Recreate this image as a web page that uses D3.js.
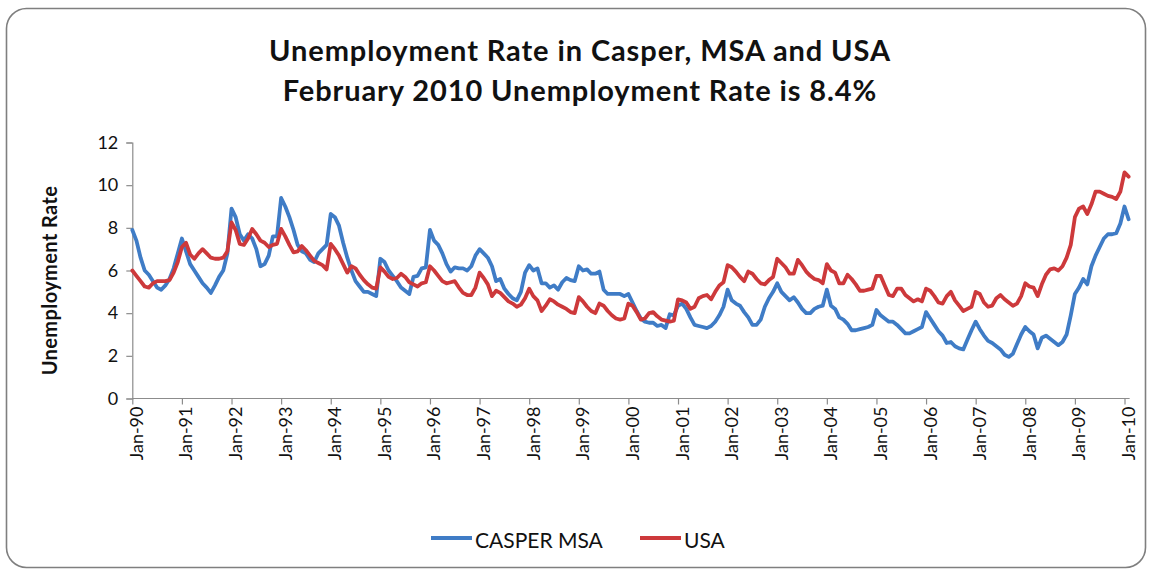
<!DOCTYPE html>
<html>
<head>
<meta charset="utf-8">
<script src="https://cdn.jsdelivr.net/npm/d3@7"></script>
<style>
  html, body { margin: 0; padding: 0; background: #fff; }
  svg { display: block; }
</style>
</head>
<body>
<svg id="chart" width="1151" height="572"></svg>
<script>
// Monthly unemployment rate (%), Jan 1990 through Feb 2010
const startYear = 1990;

const casper = [
  7.9, 7.4, 6.6, 6.0, 5.8, 5.5, 5.2, 5.1, 5.3, 5.6, 6.1, 6.8,
  7.5, 6.9, 6.3, 6.0, 5.7, 5.4, 5.2, 4.95, 5.3, 5.7, 6.0, 6.8,
  8.9, 8.5, 7.7, 7.4, 7.7, 7.5, 7.0, 6.2, 6.3, 6.7, 7.6, 7.6,
  9.4, 9.0, 8.5, 7.9, 7.2, 6.9, 6.8, 6.5, 6.4, 6.8, 7.0, 7.2,
  8.65, 8.5, 8.1, 7.3, 6.6, 6.0, 5.5, 5.25, 5.0, 5.0, 4.9, 4.8,
  6.55, 6.4, 6.0, 5.75, 5.5, 5.2, 5.05, 4.9, 5.7, 5.75, 6.1, 6.15,
  7.9, 7.4, 7.2, 6.8, 6.3, 5.95, 6.15, 6.1, 6.1, 6.0, 6.2, 6.7,
  7.0, 6.8, 6.6, 6.2, 5.5, 5.6, 5.15, 4.9, 4.7, 4.6, 5.0, 5.9,
  6.25, 6.0, 6.1, 5.4, 5.4, 5.2, 5.3, 5.1, 5.45, 5.65, 5.55, 5.5,
  6.2, 6.0, 6.05, 5.85, 5.85, 5.95, 5.1, 4.9, 4.9, 4.9, 4.9, 4.8,
  4.9, 4.5, 4.1, 3.75, 3.6, 3.55, 3.55, 3.4, 3.45, 3.3, 3.95, 3.9,
  4.35, 4.45, 4.2, 3.8, 3.45, 3.4, 3.35, 3.3, 3.4, 3.6, 3.9, 4.3,
  5.1, 4.6, 4.45, 4.35, 4.05, 3.8, 3.45, 3.45, 3.7, 4.3, 4.7, 5.0,
  5.4, 5.0, 4.8, 4.6, 4.75, 4.5, 4.2, 4.0, 4.0, 4.2, 4.3, 4.35,
  5.1, 4.35, 4.2, 3.8, 3.7, 3.5, 3.2, 3.2, 3.25, 3.3, 3.35, 3.45,
  4.15, 3.9, 3.75, 3.6, 3.6, 3.45, 3.25, 3.05, 3.05, 3.15, 3.25, 3.35,
  4.05, 3.75, 3.45, 3.15, 2.95, 2.6, 2.65, 2.45, 2.35, 2.3, 2.75, 3.2,
  3.6, 3.25, 2.95, 2.7, 2.6, 2.45, 2.3, 2.05, 1.95, 2.1, 2.55, 3.0,
  3.35, 3.15, 3.0, 2.35, 2.85, 2.95, 2.8, 2.65, 2.5, 2.65, 3.0, 3.9,
  4.9, 5.2, 5.6, 5.35, 6.2, 6.7, 7.1, 7.5, 7.7, 7.7, 7.75, 8.2,
  9.0, 8.4
];

const usa = [
  6.0, 5.75, 5.5, 5.25, 5.2, 5.4, 5.5, 5.5, 5.5, 5.55, 5.9, 6.4,
  7.1, 7.3, 6.75, 6.55, 6.8, 7.0, 6.8, 6.6, 6.55, 6.55, 6.6, 6.9,
  8.25, 7.9, 7.25, 7.2, 7.5, 7.95, 7.7, 7.4, 7.3, 7.1, 7.2, 7.25,
  7.95, 7.6, 7.2, 6.85, 6.9, 7.15, 6.95, 6.7, 6.45, 6.35, 6.25, 6.05,
  7.25, 7.0, 6.7, 6.3, 5.9, 6.2, 6.1, 5.8, 5.55, 5.35, 5.2, 5.15,
  6.15, 5.95, 5.7, 5.6, 5.65, 5.85, 5.7, 5.45, 5.35, 5.25, 5.4, 5.45,
  6.2, 6.0, 5.75, 5.5, 5.4, 5.45, 5.5, 5.2, 4.95, 4.85, 4.85, 5.2,
  5.9, 5.65, 5.35, 4.8, 5.05, 4.95, 4.75, 4.55, 4.45, 4.3, 4.4, 4.7,
  5.15, 4.8, 4.6, 4.1, 4.35, 4.65, 4.55, 4.4, 4.3, 4.2, 4.05, 4.0,
  4.75, 4.55, 4.3, 4.1, 4.0, 4.45, 4.35, 4.1, 3.9, 3.75, 3.7, 3.75,
  4.45, 4.35, 4.05, 3.7, 3.75, 4.0, 4.05, 3.85, 3.7, 3.65, 3.6, 3.65,
  4.65, 4.6, 4.5, 4.2, 4.3, 4.7, 4.8, 4.85, 4.65, 5.0, 5.3, 5.45,
  6.25, 6.15, 5.95, 5.7, 5.5, 5.95, 5.85, 5.6, 5.4, 5.35, 5.55, 5.7,
  6.55, 6.35, 6.15, 5.85, 5.85, 6.5, 6.25, 5.95, 5.75, 5.6, 5.55, 5.4,
  6.3, 6.0, 5.9, 5.4, 5.4, 5.8, 5.6, 5.35, 5.05, 5.05, 5.1, 5.15,
  5.75, 5.75, 5.3, 4.85, 4.8, 5.15, 5.15, 4.85, 4.7, 4.55, 4.65, 4.55,
  5.15, 5.05, 4.8, 4.5, 4.45, 4.8, 5.0, 4.6, 4.35, 4.1, 4.2, 4.3,
  5.0, 4.9, 4.5, 4.3, 4.35, 4.7, 4.85, 4.65, 4.5, 4.35, 4.45, 4.8,
  5.4, 5.25, 5.2, 4.8, 5.35, 5.8, 6.05, 6.1, 6.0, 6.2, 6.6, 7.2,
  8.5, 8.9, 9.0, 8.65, 9.1, 9.7, 9.7, 9.6, 9.5, 9.45, 9.35, 9.7,
  10.6, 10.4
];

const xTickLabels = [
  "Jan-90", "Jan-91", "Jan-92", "Jan-93", "Jan-94", "Jan-95", "Jan-96",
  "Jan-97", "Jan-98", "Jan-99", "Jan-00", "Jan-01", "Jan-02", "Jan-03",
  "Jan-04", "Jan-05", "Jan-06", "Jan-07", "Jan-08", "Jan-09", "Jan-10"
];
const yTicks = [0, 2, 4, 6, 8, 10, 12];

const seriesNames = ["CASPER MSA", "USA"];
const titleLines = [
  "Unemployment Rate in Casper, MSA and USA",
  "February 2010 Unemployment Rate is 8.4%"
];
const yAxisTitle = "Unemployment Rate";

const colors = { casper: "#3f7cc6", usa: "#cd393b" };
const axisColor = "#8c8c8c";
const textFont = "Lato, 'Open Sans', sans-serif";

const svg = d3.select("#chart");

// Chart frame with rounded corners
svg.append("rect")
  .attr("x", 6.5).attr("y", 8.5)
  .attr("width", 1139).attr("height", 559)
  .attr("rx", 20).attr("ry", 20)
  .attr("fill", "#fff")
  .attr("stroke", "#7f7f7f")
  .attr("stroke-width", 1.6);

// Scales: month index on x, percentage on y
const x = d3.scaleLinear().domain([0, 240]).range([132.3, 1124.5]);
const y = d3.scaleLinear().domain([0, 12]).range([398.5, 142.5]);

// Title
svg.append("g").selectAll("text")
  .data(titleLines)
  .join("text")
  .attr("x", 580)
  .attr("y", (d, i) => 61 + i * 40)
  .attr("text-anchor", "middle")
  .attr("font-family", textFont)
  .attr("font-weight", 700)
  .attr("font-size", 29)
  .attr("letter-spacing", 0.9)
  .attr("fill", "#111")
  .text(d => d);

// Y axis
const yAxis = d3.axisLeft(y)
  .tickValues(yTicks)
  .tickSize(6)
  .tickPadding(8)
  .tickFormat(d3.format("d"));

const gy = svg.append("g")
  .attr("transform", `translate(${x(0)},0)`)
  .call(yAxis);
gy.select(".domain").attr("stroke", axisColor).attr("stroke-width", 1.2);
gy.selectAll(".tick line").attr("stroke", axisColor).attr("stroke-width", 1.2);
gy.selectAll(".tick text")
  .attr("font-family", textFont)
  .attr("font-size", 18)
  .attr("fill", "#111");

// X axis: a tick every January
const yearTicks = d3.range(0, 241, 12);
const xAxis = d3.axisBottom(x)
  .tickValues(yearTicks)
  .tickSize(6)
  .tickSizeOuter(0)
  .tickFormat((d, i) => xTickLabels[i]);

const gx = svg.append("g")
  .attr("transform", `translate(0,${y(0)})`)
  .call(xAxis);
gx.select(".domain")
  .attr("d", `M${x(0)},0H${x(casper.length - 1) + 1}`)
  .attr("stroke", axisColor).attr("stroke-width", 1.2);
gx.selectAll(".tick line").attr("stroke", axisColor).attr("stroke-width", 1.2);
gx.selectAll(".tick text")
  .attr("font-family", textFont)
  .attr("font-size", 18)
  .attr("fill", "#111")
  .attr("text-anchor", "end")
  .attr("dy", null)
  .attr("dominant-baseline", "central")
  .attr("transform", "translate(3,8) rotate(-90)")
  .attr("x", 0).attr("y", 0);

// Y axis title
svg.append("text")
  .attr("transform", `translate(57,${y(6) + 10}) rotate(-90)`)
  .attr("text-anchor", "middle")
  .attr("font-family", textFont)
  .attr("font-weight", 700)
  .attr("font-size", 20)
  .attr("letter-spacing", 0.4)
  .attr("fill", "#111")
  .text(yAxisTitle);

// Series lines
const line = d3.line()
  .x((d, i) => x(i))
  .y(d => y(d));

const series = [
  { key: "casper", values: casper, name: seriesNames[0] },
  { key: "usa", values: usa, name: seriesNames[1] }
];

svg.append("g").selectAll("path")
  .data(series)
  .join("path")
  .attr("d", d => line(d.values))
  .attr("fill", "none")
  .attr("stroke", d => colors[d.key])
  .attr("stroke-width", 3.8)
  .attr("stroke-linejoin", "round")
  .attr("stroke-linecap", "round");

// Legend
const legendY = 538;
const legendItems = [
  { key: "casper", name: seriesNames[0], x0: 431 },
  { key: "usa", name: seriesNames[1], x0: 640 }
];
const lg = svg.append("g").selectAll("g")
  .data(legendItems)
  .join("g")
  .attr("transform", d => `translate(${d.x0},${legendY})`);
lg.append("line")
  .attr("x1", 0).attr("x2", 41)
  .attr("y1", 0).attr("y2", 0)
  .attr("stroke", d => colors[d.key])
  .attr("stroke-width", 3.8);
lg.append("text")
  .attr("x", 44)
  .attr("y", 1)
  .attr("dominant-baseline", "central")
  .attr("font-family", textFont)
  .attr("font-size", 21)
  .attr("fill", "#111")
  .text(d => d.name);
</script>
</body>
</html>
